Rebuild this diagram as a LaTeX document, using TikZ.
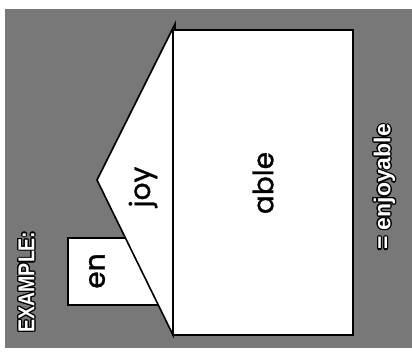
\documentclass[tikz,border=0pt]{standalone}
\usepackage{fontspec}
\setsansfont{Liberation Sans}
\newfontfamily\partfont[FakeBold=1.2]{Poppins}
\usepackage{contour}
\contourlength{1.2pt}
\definecolor{bggray}{RGB}{120,120,120}

\tikzset{
  part/.style={font=\partfont\fontsize{28}{30}\selectfont, inner sep=0pt},
  tag/.style={font=\sffamily\bfseries\fontsize{23}{25}\selectfont, text=white, inner sep=0pt}
}

\begin{document}
\begin{tikzpicture}[x=1pt, y=-1pt, line width=1.6pt]
  \useasboundingbox (0,0) rectangle (412,360);
  \fill[bggray] (5,9) rectangle (412,348);
  % word parts
  \draw[fill=white] (68,238) rectangle (170,305);
  \draw[fill=white, line join=miter] (97,180) -- (175,24) -- (173,335) -- cycle;
  \draw[fill=white] (173,30) rectangle (353,335);
  \node[part, rotate=90] (en) at (97,271) {en};
  \node[part, rotate=90] (joy) at (143,187) {joy};
  \node[part, rotate=90] (able) at (263,183) {able};
  % captions
  \node[tag, rotate=90, xscale=0.85] (example) at (27,282) {\contour{black}{EXAMPLE:}};
  \node[tag, rotate=90] (result) at (385,187) {\contour{black}{= enjoyable}};
\end{tikzpicture}
\end{document}
